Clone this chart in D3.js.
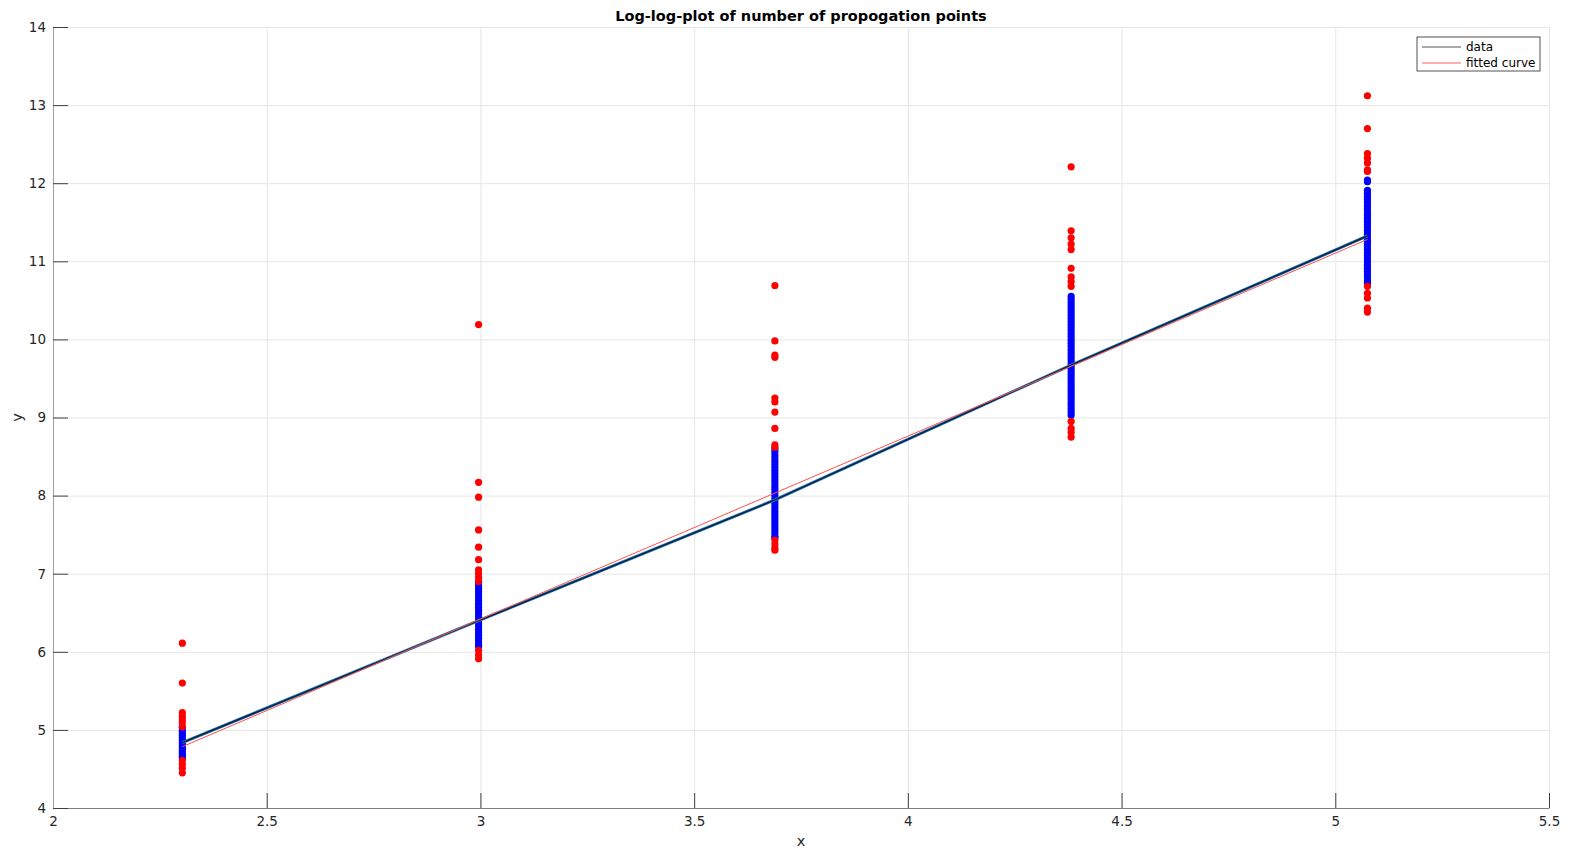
<!DOCTYPE html>
<html>
<head>
<meta charset="utf-8">
<script src="https://cdnjs.cloudflare.com/ajax/libs/d3/7.8.5/d3.min.js"></script>
<style>
  body { margin: 0; background: #fff; }
  svg text { font-family: 'DejaVu Sans', sans-serif; }
  .tick text { fill: #262626; font-size: 13.5px; }
</style>
</head>
<body>
<svg id="chart"></svg>
<script>
'use strict';

// cluster x positions (log of number of points)
var xValues = [2.3026, 2.9957, 3.6889, 4.3820, 5.0752];

// red points (outliers) per cluster
var redPoints = [
  [6.11, 5.60, 5.22, 5.17, 5.13, 5.09, 5.04, 4.61, 4.56, 4.51, 4.45],
  [10.19, 8.17, 7.98, 7.56, 7.34, 7.18, 7.05, 7.00, 6.95, 6.90, 6.02, 5.96, 5.91],
  [10.69, 9.98, 9.80, 9.77, 9.25, 9.20, 9.07, 8.86, 8.65, 8.62, 7.43, 7.38, 7.33, 7.30],
  [12.21, 11.39, 11.30, 11.22, 11.15, 10.91, 10.80, 10.74, 10.68, 8.95, 8.86, 8.81, 8.75],
  [13.12, 12.70, 12.38, 12.32, 12.26, 12.17, 12.15, 10.68, 10.59, 10.53, 10.40, 10.35]
];

// blue points (inliers) per cluster
var bluePoints = [
  [5.03, 4.99, 4.96, 4.93, 4.90, 4.87, 4.84, 4.81, 4.78, 4.75, 4.72, 4.69, 4.66, 4.64],
  [6.89, 6.85, 6.81, 6.77, 6.73, 6.69, 6.65, 6.61, 6.57, 6.53, 6.49, 6.45, 6.41, 6.37,
   6.33, 6.29, 6.25, 6.21, 6.17, 6.13, 6.09, 6.07],
  [8.60, 8.56, 8.52, 8.48, 8.44, 8.40, 8.36, 8.32, 8.28, 8.24, 8.20, 8.16, 8.12, 8.08,
   8.04, 8.00, 7.96, 7.92, 7.88, 7.84, 7.80, 7.76, 7.72, 7.68, 7.64, 7.60, 7.56, 7.52,
   7.48, 7.46],
  [10.55, 10.51, 10.47, 10.43, 10.39, 10.35, 10.31, 10.27, 10.23, 10.19, 10.15, 10.11,
   10.07, 10.03, 9.99, 9.95, 9.91, 9.87, 9.83, 9.79, 9.75, 9.71, 9.67, 9.63, 9.59, 9.55,
   9.51, 9.47, 9.43, 9.39, 9.35, 9.31, 9.27, 9.23, 9.19, 9.15, 9.11, 9.07, 9.03],
  [12.04, 12.02, 11.91, 11.87, 11.83, 11.79, 11.75, 11.71, 11.67, 11.63, 11.59, 11.55, 11.51,
   11.47, 11.43, 11.39, 11.35, 11.31, 11.27, 11.23, 11.19, 11.15, 11.11, 11.07, 11.03,
   10.99, 10.95, 10.91, 10.87, 10.83, 10.79, 10.75, 10.72]
];

// data line through the clusters
var dataLineY = [4.836, 6.398, 7.944, 9.672, 11.324];
// fitted curve end points
var fitX = [2.3026, 5.0752];
var fitY = [4.785, 11.28];

var xTicks = [2, 2.5, 3, 3.5, 4, 4.5, 5, 5.5];
var yTicks = [4, 5, 6, 7, 8, 9, 10, 11, 12, 13, 14];

var totalWidth = 1570, totalHeight = 851;
var margin = { top: 27, right: 21, bottom: 43, left: 53 };
var width = totalWidth - margin.left - margin.right,
  height = totalHeight - margin.top - margin.bottom;

var svg = d3.select('#chart')
  .attr('width', totalWidth)
  .attr('height', totalHeight)
  .append('g')
  .attr('transform', 'translate(' + margin.left + ',' + margin.top + ')');

var x = d3.scaleLinear().domain([2, 5.5]).range([0, width]);
var y = d3.scaleLinear().domain([4, 14]).range([height, 0]);

// grid
svg.append('g')
  .attr('transform', 'translate(0,' + height + ')')
  .call(d3.axisBottom(x).tickValues(xTicks).tickSize(-height).tickFormat(''))
  .call(function (g) {
    g.select('.domain').remove();
    g.selectAll('line').attr('stroke', '#e6e6e6');
  });
svg.append('g')
  .call(d3.axisLeft(y).tickValues(yTicks).tickSize(-width).tickFormat(''))
  .call(function (g) {
    g.select('.domain').remove();
    g.selectAll('line').attr('stroke', '#e6e6e6');
  });

// axes
svg.append('g')
  .attr('transform', 'translate(0,' + height + ')')
  .call(d3.axisBottom(x).tickValues(xTicks).tickSizeInner(-15).tickSizeOuter(0).tickPadding(8)
    .tickFormat(d3.format('')))
  .call(function (g) {
    g.select('.domain').attr('stroke', '#808080');
    g.selectAll('line').attr('stroke', '#404040');
  });
svg.append('g')
  .call(d3.axisLeft(y).tickValues(yTicks).tickSizeInner(-15).tickSizeOuter(0).tickPadding(7))
  .call(function (g) {
    g.select('.domain').attr('stroke', '#a0a0a0');
    g.selectAll('line').attr('stroke', '#404040');
  });

// points
var pointData = [];
xValues.forEach(function (xv, i) {
  bluePoints[i].forEach(function (v) { pointData.push({ x: xv, y: v, c: '#0000ff' }); });
  redPoints[i].forEach(function (v) { pointData.push({ x: xv, y: v, c: '#ff0000' }); });
});
svg.selectAll('.dot')
  .data(pointData)
  .enter().append('circle')
  .attr('class', 'dot')
  .attr('cx', function (d) { return x(d.x); })
  .attr('cy', function (d) { return y(d.y); })
  .attr('r', 3.6)
  .attr('fill', function (d) { return d.c; });

// data line
var line = d3.line()
  .x(function (d) { return x(d[0]); })
  .y(function (d) { return y(d[1]); });
var dataPts = xValues.map(function (xv, i) { return [xv, dataLineY[i]]; });
svg.append('path')
  .datum(dataPts)
  .attr('fill', 'none')
  .attr('stroke', '#2a78b8')
  .attr('stroke-width', 3)
  .attr('d', line);
svg.append('path')
  .datum(dataPts)
  .attr('fill', 'none')
  .attr('stroke', '#05233d')
  .attr('stroke-width', 1.4)
  .attr('d', line);

// fitted curve
svg.append('path')
  .datum(fitX.map(function (xv, i) { return [xv, fitY[i]]; }))
  .attr('fill', 'none')
  .attr('stroke', '#ff5050')
  .attr('stroke-width', 1)
  .attr('d', line);

// title & labels
svg.append('text')
  .attr('x', width / 2)
  .attr('y', -6)
  .attr('text-anchor', 'middle')
  .style('font-size', '14.5px')
  .style('font-weight', 'bold')
  .attr('fill', '#000')
  .text('Log-log-plot of number of propogation points');

svg.append('text')
  .attr('x', width / 2)
  .attr('y', height + 38)
  .attr('text-anchor', 'middle')
  .style('font-size', '14.5px')
  .attr('fill', '#262626')
  .text('x');

svg.append('text')
  .attr('transform', 'rotate(-90)')
  .attr('x', -height / 2)
  .attr('y', -31)
  .attr('text-anchor', 'middle')
  .style('font-size', '14.5px')
  .attr('fill', '#262626')
  .text('y');

// legend
var legend = svg.append('g')
  .attr('transform', 'translate(' + (1417 - margin.left) + ',' + (37 - margin.top) + ')');
legend.append('rect')
  .attr('width', 123)
  .attr('height', 34)
  .attr('fill', '#fff')
  .attr('stroke', '#262626')
  .attr('stroke-width', 0.8);
var legendItems = [
  { label: 'data', color: '#555555' },
  { label: 'fitted curve', color: '#ff6060' }
];
legendItems.forEach(function (d, i) {
  var yy = 10 + i * 16;
  legend.append('line')
    .attr('x1', 5).attr('x2', 44)
    .attr('y1', yy).attr('y2', yy)
    .attr('stroke', d.color)
    .attr('stroke-width', 1.2);
  legend.append('text')
    .attr('x', 49)
    .attr('y', yy + 4)
    .style('font-size', '12px')
    .attr('fill', '#000')
    .text(d.label);
});
</script>
</body>
</html>
